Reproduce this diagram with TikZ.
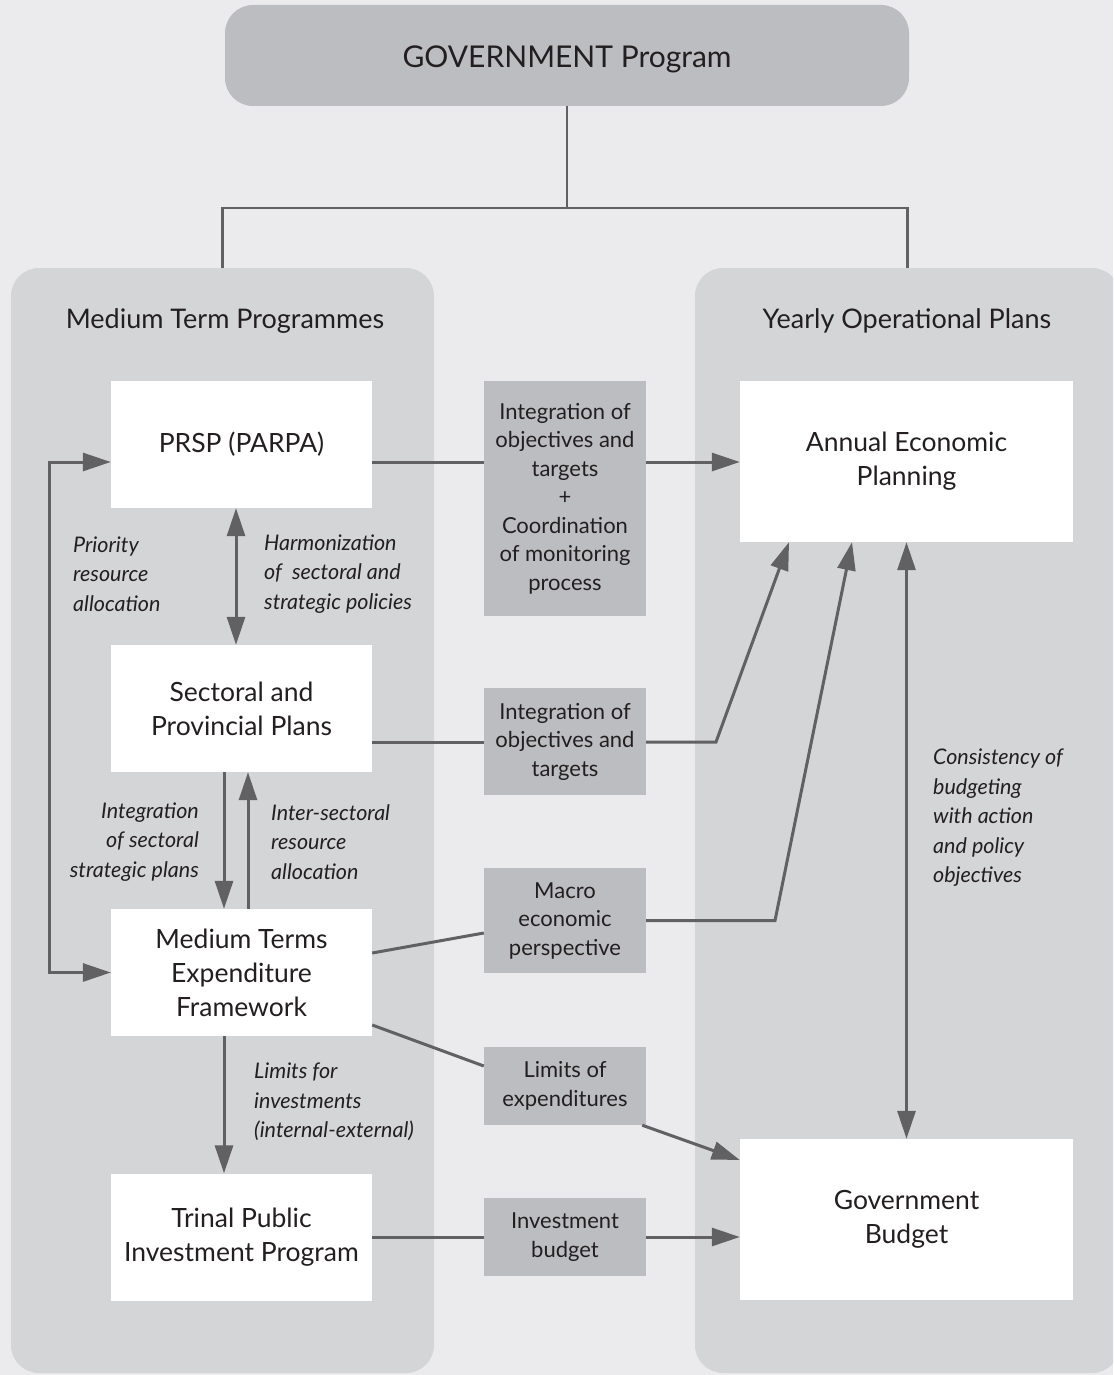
\documentclass[tikz,border=0pt]{standalone}
\usepackage{fontspec}
\setmainfont{Lato}
\usetikzlibrary{arrows.meta}
\definecolor{bg}{HTML}{EBEBED}
\definecolor{panel}{HTML}{D4D5D7}
\definecolor{dgrey}{HTML}{BCBDC0}
\definecolor{lncol}{HTML}{616163}
\definecolor{txt}{HTML}{231F20}
\begin{document}
\begin{tikzpicture}[x=1pt,y=-1pt,
  box/.style={rectangle, inner sep=0pt, text=txt, align=center},
  whitebox/.style={box, fill=white, minimum width=261pt, minimum height=127pt, font=\fontsize{26.5}{34}\selectfont},
  bigwhite/.style={box, fill=white, minimum width=333pt, minimum height=161pt, font=\fontsize{26.5}{34}\selectfont},
  midbox/.style={box, fill=dgrey, minimum width=162pt, font=\fontsize{22}{28.5}\selectfont},
  panelbox/.style={rectangle, inner sep=0pt, fill=panel, rounded corners=28pt, minimum height=1105pt},
  lbl/.style={inner sep=0pt, text=txt, font=\itshape\fontsize{21.5}{29.5}\selectfont},
  ttl/.style={inner sep=0pt, text=txt, font=\fontsize{27}{32}\selectfont},
  ln/.style={draw=lncol, line width=3pt},
  govln/.style={draw=lncol, line width=2.2pt},
  arr/.style={ln, -{Triangle[length=28pt,width=18pt]}},
  dblarr/.style={ln, {Triangle[length=28pt,width=18pt]}-{Triangle[length=28pt,width=18pt]}}
]
\useasboundingbox (0,0) rectangle (1113,1375);
\fill[bg] (0,0) rectangle (1113,1375);
\clip (0,0) rectangle (1113,1375);

% panels
\node[panelbox, minimum width=423pt] (lp) at (222.5,820.5) {};
\node[panelbox, minimum width=425pt] (rp) at (907.5,820.5) {};

% government
\node[box, fill=dgrey, rounded corners=28pt, minimum width=684pt, minimum height=101pt] (gov) at (567,55.5) {};
\node[box, font=\fontsize{30}{34}\selectfont] (govt) at (567,59) {GOVERNMENT Program};
\coordinate (j) at (567,208);
\draw[govln] (gov.south) -- (j);
\draw[govln] (lp.north) |- (j) -| (rp.north);

% titles
\node[ttl] (t1) at (225,321) {Medium Term Programmes};
\node[ttl] (t2) at (907,321) {Yearly Operational Plans};

% left boxes
\node[whitebox] (prsp) at (241.5,444.5) {PRSP (PARPA)};
\node[whitebox] (spp) at (241.5,708.5) {Sectoral and\\Provincial Plans};
\node[whitebox] (mtef) at (241.5,972.5) {Medium Terms\\Expenditure\\Framework};
\node[whitebox] (tpip) at (241.5,1237) {Trinal Public\\Investment Program};

% right boxes
\node[bigwhite] (aep) at (906.5,461.5) {Annual Economic\\Planning};
\node[bigwhite] (gb) at (906.5,1219.5) {Government\\Budget};

% middle boxes
\node[midbox, minimum height=235pt] (m1) at (565,498.5) {Integration of\\objectives and\\targets\\+\\Coordination\\of monitoring\\process};
\node[midbox, minimum height=107pt] (m2) at (565,741.5) {Integration of\\objectives and\\targets};
\node[midbox, minimum height=105pt] (m3) at (565,920.5) {Macro\\economic\\perspective};
\node[midbox, minimum height=78pt] (m4) at (565,1086) {Limits of\\expenditures};
\node[midbox, minimum height=78pt] (m5) at (565,1237) {Investment\\budget};

% helper coordinates
\coordinate (r1) at (0,462);
\coordinate (r2) at (0,742);
\coordinate (fbx) at (49,0);
\coordinate (k2) at (716,742);
\coordinate (k3) at (775,920.5);

% PRSP -> Annual
\draw[ln] (prsp.east |- r1) -- (m1.west |- r1);
\draw[arr] (m1.east |- r1) -- (aep.west |- r1);

% feedback loop
\draw[dblarr] (mtef.west) -- (mtef.west -| fbx) |- (prsp.west |- r1);

% Sectoral -> Annual
\draw[ln] (spp.east |- r2) -- (m2.west |- r2);
\draw[arr] (m2.east |- r2) -- (k2) -- ([xshift=-117.5pt]aep.south);

% Macro
\draw[ln] ([yshift=19.5pt]mtef.east) -- ([yshift=-12.5pt]m3.west);
\draw[arr] (m3.east) -- (k3) -- ([xshift=-54.5pt]aep.south);

% Limits
\draw[ln] ([yshift=-52.5pt]mtef.east) -- ([yshift=20pt]m4.west);
\draw[arr] ([xshift=-4pt]m4.south east) -- ([yshift=59.5pt]gb.west);

% Investment
\draw[ln] (tpip.east) -- (m5.west);
\draw[arr] (m5.east) -- (gb.west |- m5.east);

% consistency
\draw[dblarr] (aep.south) -- (gb.north);

% vertical arrows on the left
\draw[dblarr] ([xshift=-5.5pt]prsp.south) -- ([xshift=-5.5pt]spp.north);
\draw[arr] ([xshift=-17.5pt]spp.south) -- ([xshift=-17.5pt]mtef.north);
\draw[arr] ([xshift=6.5pt]mtef.north) -- ([xshift=6.5pt]spp.south);
\draw[arr] ([xshift=-17.5pt]mtef.south) -- ([xshift=-17.5pt]tpip.north);

% italic labels
\node[lbl, anchor=west, align=left] (l1) at (73,574) {Priority\\resource\\allocation};
\node[lbl, anchor=west, align=left] (l2) at (264,574) {Harmonization\\of\ \ sectoral and\\strategic policies};
\node[lbl, anchor=east, align=right] (l3) at (199,842) {Integration\\of sectoral\\strategic plans};
\node[lbl, anchor=west, align=left] (l4) at (271,842) {Inter-sectoral\\resource\\allocation};
\node[lbl, anchor=west, align=left] (l5) at (254,1102) {Limits for\\investments\\(internal-external)};
\node[lbl, anchor=west, align=left] (l6) at (933,818) {Consistency of\\budgeting\\with action\\and policy\\objectives};
\end{tikzpicture}
\end{document}
